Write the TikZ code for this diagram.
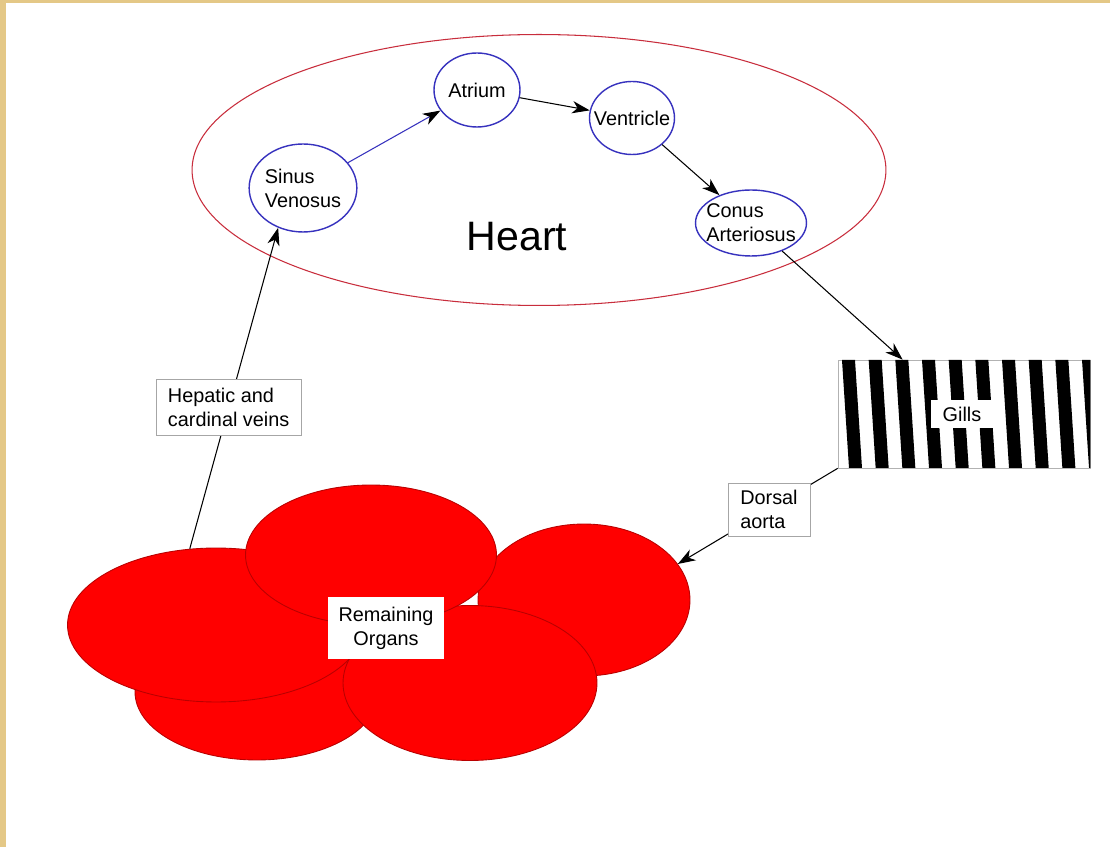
\documentclass[tikz,border=0pt]{standalone}
\usepackage{fontspec}
\setmainfont{Liberation Sans}
\usetikzlibrary{arrows.meta,shapes.geometric}

\definecolor{framebg}{RGB}{228,200,135}
\definecolor{heartred}{RGB}{200,45,60}
\definecolor{chamberblue}{RGB}{55,50,190}
\definecolor{organred}{RGB}{255,0,0}
\definecolor{organedge}{RGB}{185,0,0}

\begin{document}
\begin{tikzpicture}[x=0.02cm,y=-0.02cm,line width=0.6pt,
    >={Stealth[length=10pt,width=7pt,inset=3pt]}]
        \tikzstyle{every node} = [font=\fontsize{11.3}{13.6}\selectfont]
        \tikzstyle{chamber} = [ellipse, draw=chamberblue, line width=0.8pt, inner sep=0pt, align=left]
        \tikzstyle{organ} = [ellipse, fill=organred, draw=organedge, line width=0.5pt]
        \tikzstyle{tag} = [rectangle, fill=white, draw=gray!70, line width=0.5pt, inner sep=0pt]

        % page
        \fill[framebg] (0,0) rectangle (1110,847);
        \fill[white] (6,3) rectangle (1110,847);
        \useasboundingbox (0,0) rectangle (1110,847);

        % heart
        \node (heart) at (539,170) [ellipse, draw=heartred, minimum width=13.88cm, minimum height=5.42cm] {};
        \node (heartlabel) at (517,237) {\fontsize{23.4}{28}\selectfont Heart};
        \node (0) at (303,188) [chamber, minimum width=2.12cm, minimum height=1.76cm] {Sinus\\Venosus};
        \node (1) at (477,90) [chamber, minimum width=1.72cm, minimum height=1.48cm] {Atrium};
        \node (2) at (632,118) [chamber, inner xsep=-6pt, minimum width=1.7cm, minimum height=1.46cm] {Ventricle};
        \node (3) at (751,223) [chamber, inner xsep=-4pt, minimum width=2.22cm, minimum height=1.32cm] {Conus\\Arteriosus};

        \draw[chamberblue, -{Stealth[length=10pt,width=7pt,inset=3pt,black]}] (0) -- (1);
        \foreach \from/\to in {1/2, 2/3}
            \draw[->] (\from) -- (\to);

        % gills
        \node (gills) at (964,414) [rectangle, draw=gray!60, line width=0.4pt, minimum width=5.04cm, minimum height=2.16cm] {};
        \begin{scope}
            \clip (gills.south west) rectangle (gills.north east);
            \foreach \k in {0,...,9}
                \fill ({842+26.67*\k},360) -- ++(13,0) -- ++(7,108) -- ++(-13,0) -- cycle;
        \end{scope}
        \node (gillslabel) at (962,414) [fill=white, minimum width=1.26cm, minimum height=0.56cm, inner sep=0pt] {Gills};

        % organs
        \node (organBL) at (257,692) [organ, minimum width=4.88cm, minimum height=2.72cm] {};
        \node (organR) at (584,600) [organ, minimum width=4.24cm, minimum height=3.04cm] {};
        \node (organBR) at (470,683) [organ, minimum width=5.08cm, minimum height=3.1cm] {};
        \node (organL) at (216,625) [organ, minimum width=5.94cm, minimum height=3.08cm] {};
        \node (organT) at (371,555) [organ, minimum width=5.02cm, minimum height=2.8cm] {};
        \node (organs) at (386,628) [fill=white, minimum width=2.34cm, minimum height=1.26cm, inner sep=0pt, align=center] {Remaining\\Organs};

        % vessels
        \draw[->] (3) -- ([xshift=1.3cm]gills.north west);
        \draw[->] (gills.south west) -- node[pos=0.43, tag, minimum width=1.64cm, minimum height=1.06cm, align=left] {Dorsal\\aorta} (organR.21);
        \draw[->] (organL.109) -- node[pos=0.44, tag, minimum width=2.9cm, minimum height=1.12cm, align=left] {Hepatic and\\cardinal veins} (0.238);
\end{tikzpicture}
\end{document}
